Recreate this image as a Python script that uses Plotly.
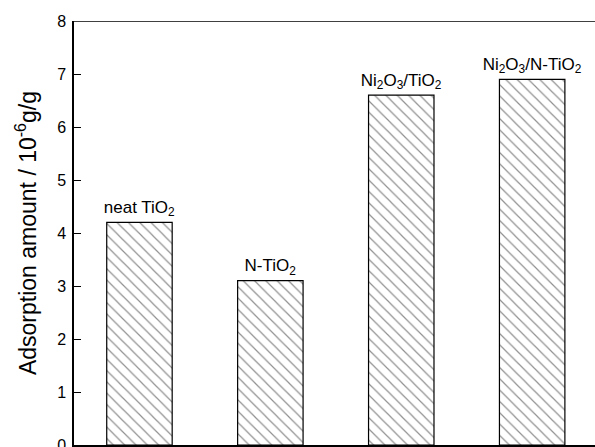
import plotly.graph_objects as go

categories = ["neat TiO<sub>2</sub>", "N-TiO<sub>2</sub>",
              "Ni<sub>2</sub>O<sub>3</sub>/TiO<sub>2</sub>",
              "Ni<sub>2</sub>O<sub>3</sub>/N-TiO<sub>2</sub>"]
values = [4.2, 3.1, 6.6, 6.9]
y_ticks = [0, 1, 2, 3, 4, 5, 6, 7, 8]

FONT = "Liberation Sans, Arial, sans-serif"

fig = go.Figure()
fig.add_trace(go.Bar(
    x=list(range(len(values))),
    y=values,
    width=0.5,
    text=categories,
    textposition="outside",
    constraintext="none",
    cliponaxis=False,
    textfont=dict(family=FONT, size=17, color="black"),
    marker=dict(
        color="white",
        line=dict(color="black", width=1.2),
        pattern=dict(shape="\\", size=8, solidity=0.15,
                     fgcolor="#222", bgcolor="white"),
    ),
    hoverinfo="skip",
))

fig.update_layout(
    width=595, height=447,
    margin=dict(l=74, r=0, t=21, b=2, autoexpand=False),
    paper_bgcolor="white", plot_bgcolor="white",
    showlegend=False,
    font=dict(family=FONT, color="black"),
    uniformtext=dict(mode=False),
    xaxis=dict(range=[-0.5, 3.48], showline=True, linecolor="black",
               linewidth=1.5, showticklabels=False, ticks="",
               showgrid=False, zeroline=False, fixedrange=True),
    yaxis=dict(range=[0, 8], tickvals=y_ticks, showline=True,
               linecolor="black", linewidth=1.5, ticks="inside",
               ticklen=7, tickwidth=1.2, tickcolor="black",
               ticklabelstandoff=3, ticklabeloverflow="allow",
               showgrid=False, zeroline=False,
               tickfont=dict(family=FONT, size=16, color="black"),
               title=dict(text="Adsorption amount / 10<sup>-6</sup>g/g",
                          font=dict(family=FONT, size=23, color="black"),
                          standoff=14)),
    shapes=[dict(type="line", xref="paper", yref="y", x0=0, x1=1,
                 y0=8, y1=8, line=dict(color="black", width=1.5))],
)

fig.write_html("out.html")
